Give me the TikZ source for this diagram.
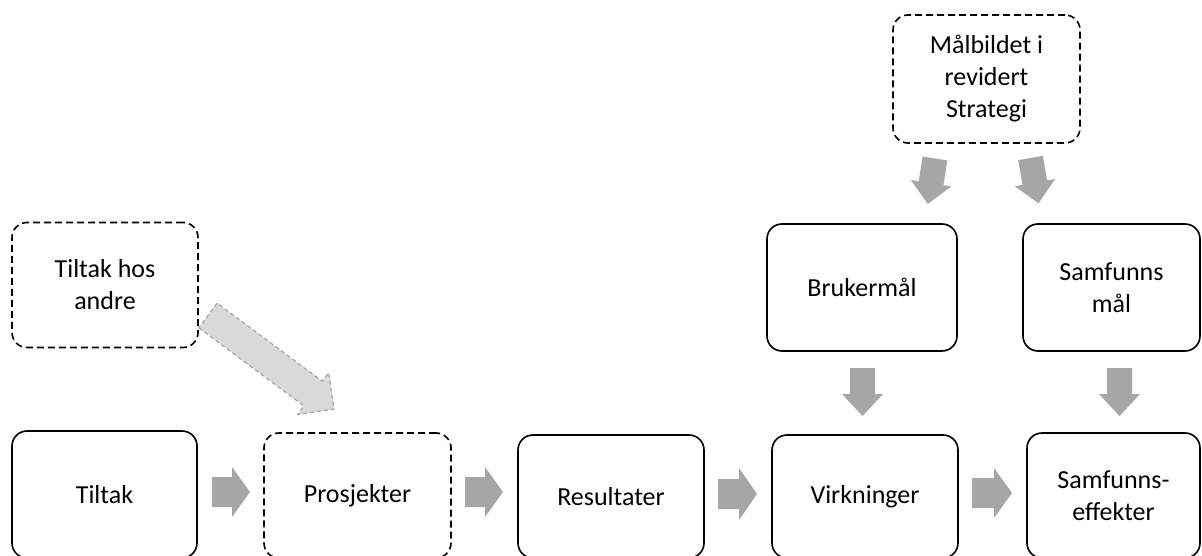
\documentclass[tikz,border=0pt]{standalone}
\usepackage{fontspec}
\setmainfont{Carlito}
\definecolor{arrgray}{HTML}{A6A6A6}
\definecolor{lightarr}{HTML}{D9D9D9}
\definecolor{lightedge}{HTML}{A0A0A0}
\newcommand\blockarr[7]{%
  \begin{scope}[shift={#2}, rotate=#3]
    \path[#1] (0,#5) -- ({#4-#7},#5) -- ({#4-#7},#6) -- (#4,0) -- ({#4-#7},-#6) -- ({#4-#7},-#5) -- (0,-#5) -- cycle;
  \end{scope}}
\begin{document}
\begin{tikzpicture}[x=1pt,y=-1pt,
  box/.style={draw=black, line width=1.6pt, rounded corners=15pt, fill=white, align=center,
    inner sep=0pt, font=\fontsize{26}{32}\selectfont},
  dbox/.style={box, dash pattern=on 7pt off 4pt},
  garr/.style={fill=arrgray},
  larr/.style={fill=lightarr, draw=lightedge, line width=1.1pt, dash pattern=on 4pt off 3pt}]
\useasboundingbox (0,0) rectangle (1202,556);
% boxes
\node[box, minimum width=185pt, minimum height=127pt] (tiltak) at (104.5,494.5) {Tiltak};
\node[dbox, minimum width=187pt, minimum height=125pt] (prosj) at (357.5,495.5) {Prosjekter};
\node[box, minimum width=186pt, minimum height=123pt] (result) at (611,496.5) {Resultater};
\node[box, minimum width=186pt, minimum height=123pt] (virk) at (865,496.5) {Virkninger};
\node[box, minimum width=173pt, minimum height=125pt] (seff) at (1113.5,495.5) {Samfunns-\\effekter};
\node[box, minimum width=190pt, minimum height=127pt] (bruker) at (862,287.5) {Brukermål};
\node[box, minimum width=177pt, minimum height=127pt] (smaal) at (1111.5,287.5) {Samfunns\\mål};
\node[dbox, minimum width=187pt, minimum height=128pt] (maal) at (986.5,79) {Målbildet i\\revidert\\Strategi};
\node[dbox, minimum width=186pt, minimum height=125pt] (andre) at (105,285) {Tiltak hos\\andre};
% horizontal block arrows
\blockarr{garr}{(212,492)}{0}{38}{15}{25}{18}
\blockarr{garr}{(465,492)}{0}{38}{15}{25}{18}
\blockarr{garr}{(718,494)}{0}{39}{15}{26}{18}
\blockarr{garr}{(972,493)}{0}{40}{15}{25}{18}
% vertical block arrows
\blockarr{garr}{(862.5,368)}{-90}{48}{12.5}{20.5}{22}
\blockarr{garr}{(1119.5,368)}{-90}{48}{12.5}{20.5}{22}
% tilted arrows from top box
\blockarr{garr}{(935,158.5)}{-99}{46}{12.5}{20.5}{21}
\blockarr{garr}{(1030.5,158)}{-80}{46}{12.5}{20.5}{21}
% diagonal arrow
\blockarr{larr}{(208,315.5)}{-36.6}{157}{15.4}{26}{26}
\end{tikzpicture}
\end{document}
